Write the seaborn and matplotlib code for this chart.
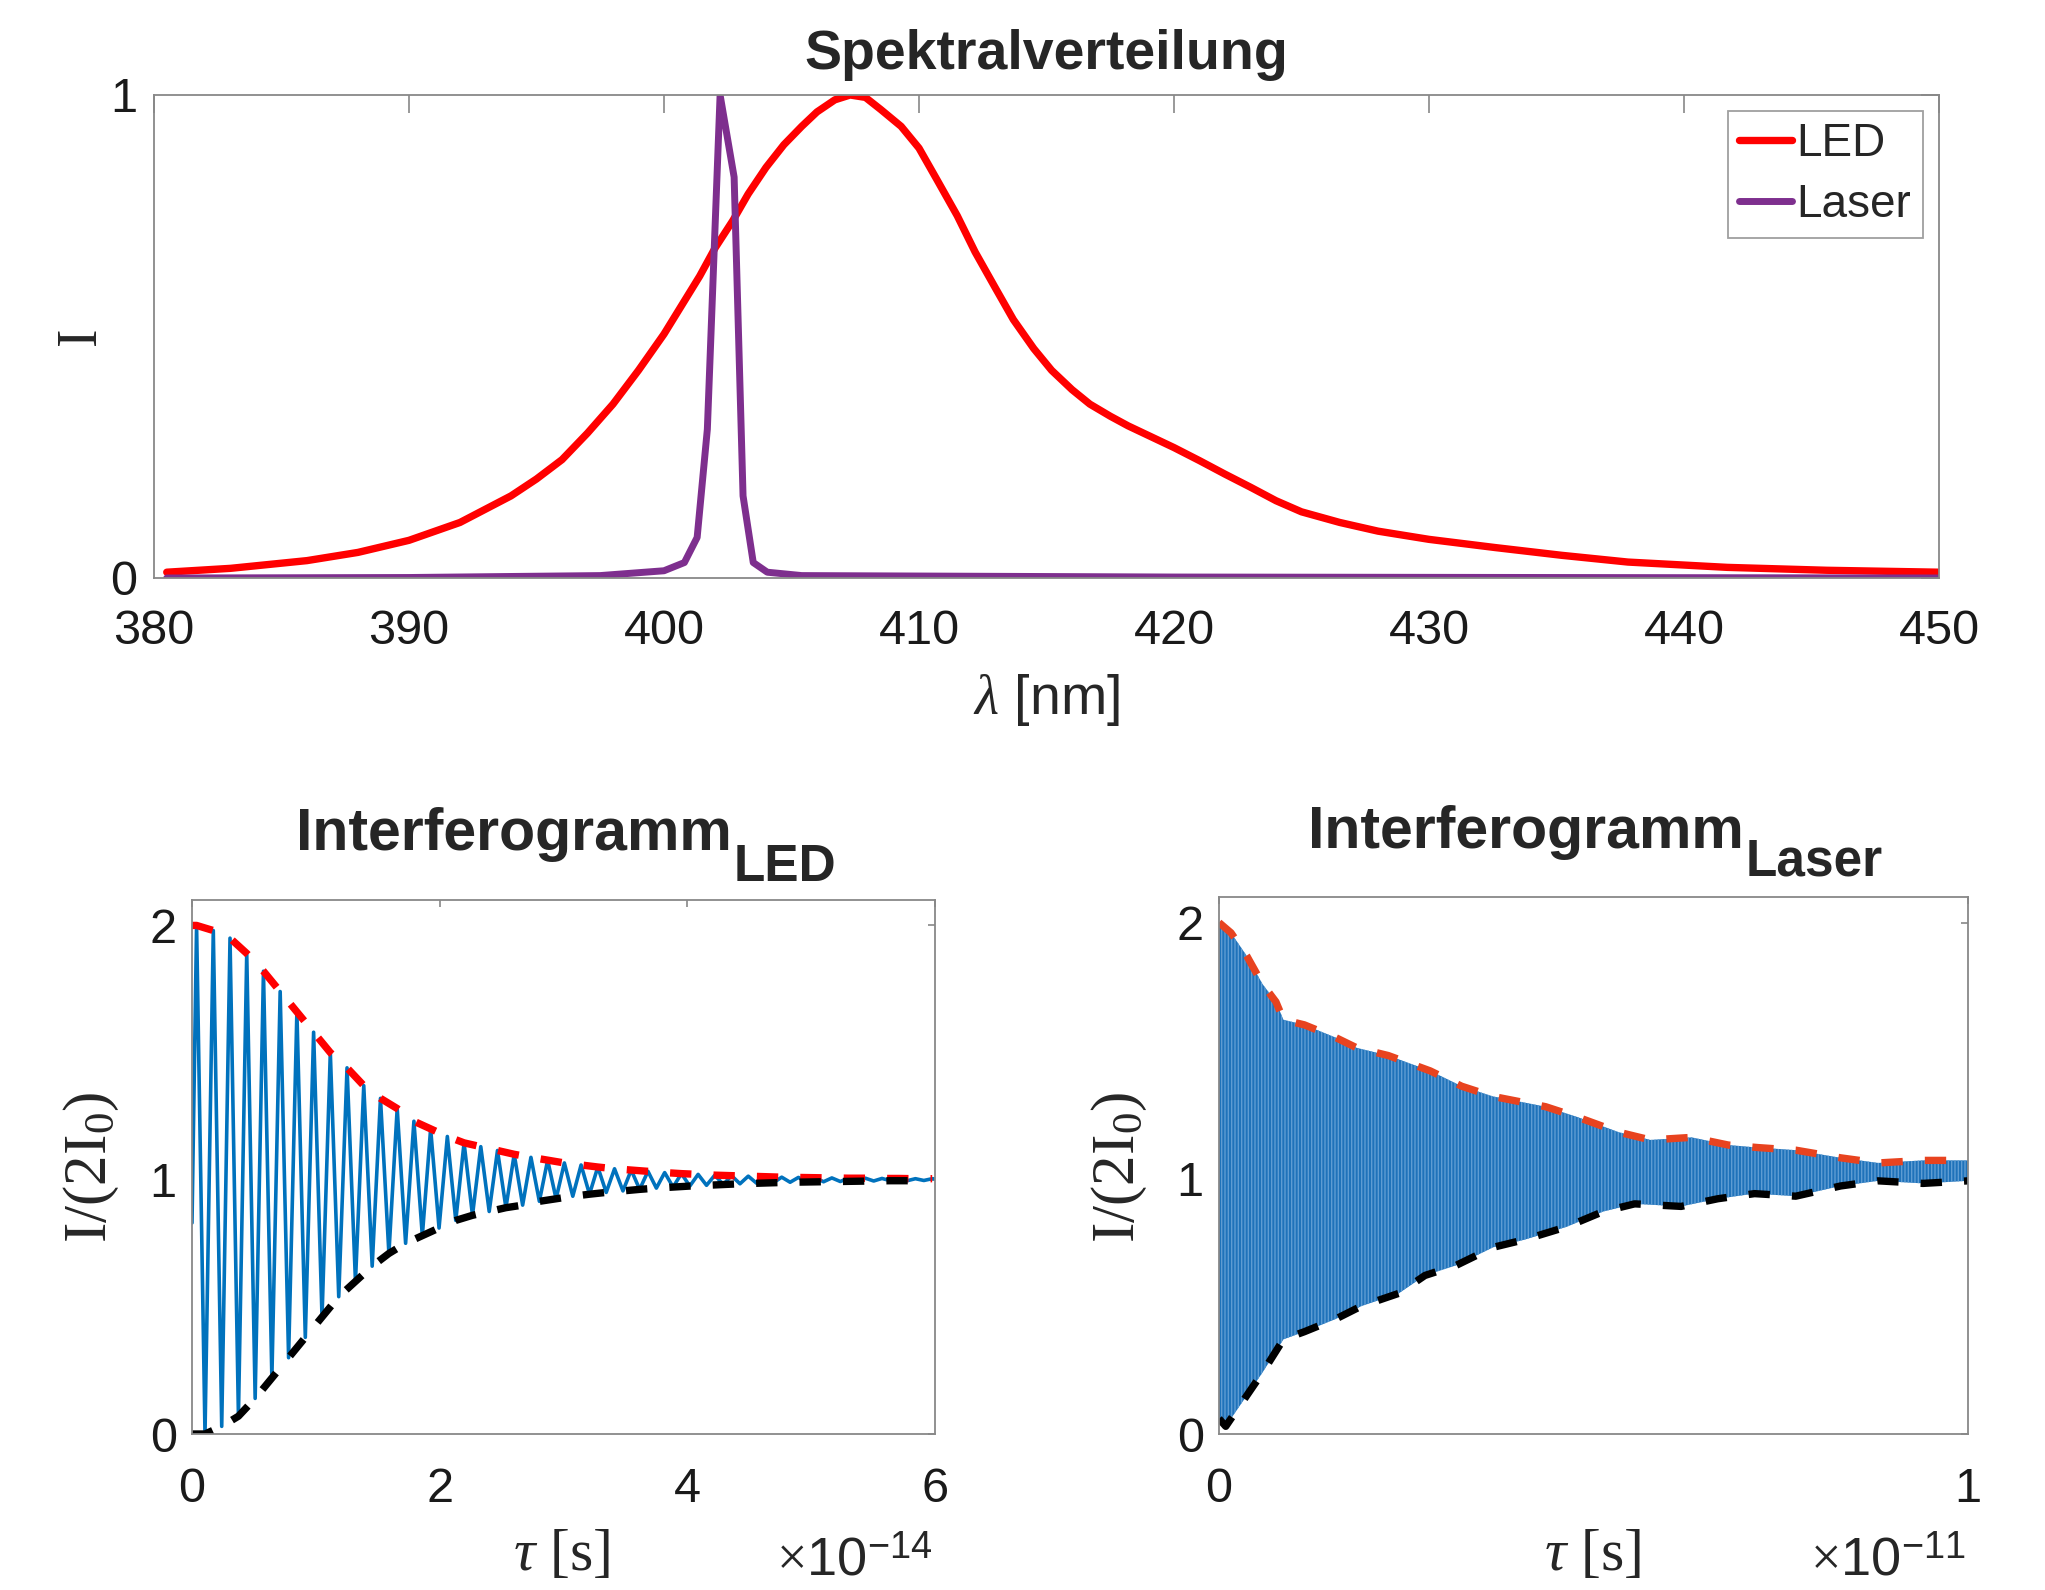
import numpy as np
import matplotlib
matplotlib.use("Agg")
import matplotlib.pyplot as plt
import seaborn as sns

sns.set_theme(style="white")
plt.rcParams["font.family"] = ["Liberation Sans", "DejaVu Sans"]
plt.rcParams["mathtext.fontset"] = "custom"
plt.rcParams["mathtext.rm"] = "Liberation Serif"
plt.rcParams["mathtext.it"] = "Liberation Serif:italic"
plt.rcParams["mathtext.sf"] = "Liberation Sans"
plt.rcParams["mathtext.bf"] = "Liberation Sans:bold"
plt.rcParams["hatch.linewidth"] = 1.0

# spectra
led_lam = [380.5, 383, 386, 388, 390, 392, 394, 395, 396, 397, 398, 399,
           400, 400.7, 401.4, 402, 402.7, 403.3, 404, 404.7, 405.4, 406, 406.7, 407.3,
           407.9, 408.5, 409.3, 410, 410.7, 411.5, 412.2, 413, 413.7, 414.5, 415.2, 416,
           416.7, 417.5, 418.2, 419, 420, 421, 422, 423, 424, 425, 426.5, 428, 430,
           432.6, 435.2, 437.8, 441.7, 445.6, 450]
led_int = [0.012, 0.02, 0.036, 0.053, 0.078, 0.115, 0.17, 0.205, 0.245, 0.3, 0.36, 0.43,
           0.505, 0.565, 0.625, 0.683, 0.74, 0.795, 0.85, 0.897, 0.935, 0.965, 0.99, 1.0,
           0.995, 0.97, 0.935, 0.89, 0.825, 0.75, 0.675, 0.6, 0.535, 0.475, 0.43, 0.39,
           0.36, 0.335, 0.315, 0.295, 0.27, 0.243, 0.215, 0.188, 0.16, 0.137, 0.115, 0.097, 0.08,
           0.063, 0.047, 0.033, 0.022, 0.016, 0.012]
laser_lam = [380.5, 390, 397.5, 400, 400.8, 401.3, 401.7, 402.2, 402.75, 403.1, 403.5,
             404.05, 405.4, 420, 450]
laser_int = [0.0, 0.001, 0.005, 0.015, 0.032, 0.084, 0.308, 1.0, 0.83, 0.17, 0.032,
             0.012, 0.005, 0.002, 0.0]

# LED interferogram: maxima and minima of the fringes (tau in 1e-14 s)
led_peak_t = [0.037, 0.172, 0.307, 0.442, 0.577, 0.712, 0.847, 0.982, 1.117, 1.252,
              1.387, 1.522, 1.657, 1.792, 1.927, 2.062, 2.197, 2.332, 2.467, 2.602,
              2.737, 2.872, 3.007, 3.142, 3.277, 3.412, 3.547, 3.682, 3.817, 3.952,
              4.087, 4.222, 4.357, 4.492, 4.627, 4.762, 4.897, 5.032, 5.167, 5.302,
              5.437, 5.572, 5.707, 5.842, 5.977]
led_peak_v = [2.0, 1.98, 1.95, 1.89, 1.82, 1.74, 1.66, 1.58, 1.5, 1.44,
              1.37, 1.32, 1.28, 1.23, 1.2, 1.17, 1.145, 1.13, 1.115, 1.1,
              1.088, 1.077, 1.066, 1.058, 1.05, 1.043, 1.038, 1.033, 1.028, 1.024,
              1.021, 1.018, 1.016, 1.014, 1.012, 1.01, 1.009, 1.008, 1.007, 1.006,
              1.006, 1.005, 1.005, 1.004, 1.004]
led_trough_t = [0.105, 0.24, 0.375, 0.51, 0.645, 0.78, 0.915, 1.05, 1.185, 1.32,
                1.455, 1.59, 1.725, 1.86, 1.995, 2.13, 2.265, 2.4, 2.535, 2.67,
                2.805, 2.94, 3.075, 3.21, 3.345, 3.48, 3.615, 3.75, 3.885, 4.02,
                4.155, 4.29, 4.425, 4.56, 4.695, 4.83, 4.965, 5.1, 5.235, 5.37,
                5.505, 5.64, 5.775, 5.91]
led_trough_v = [0.0, 0.03, 0.07, 0.14, 0.22, 0.3, 0.38, 0.46, 0.54, 0.6,
                0.66, 0.71, 0.75, 0.78, 0.81, 0.84, 0.86, 0.875, 0.89, 0.9,
                0.915, 0.925, 0.935, 0.943, 0.95, 0.956, 0.962, 0.967, 0.971, 0.975,
                0.978, 0.981, 0.984, 0.986, 0.988, 0.99, 0.991, 0.992, 0.993, 0.994,
                0.995, 0.996, 0.996, 0.997]
led_start = (0.0, 0.83)
led_end = (6.0, 1.003)

# Laser interferogram envelopes (tau in 1e-11 s)
las_up_t = [0, 0.016, 0.037, 0.058, 0.076, 0.086, 0.114, 0.156, 0.184, 0.226, 0.282, 0.324,
            0.366, 0.436, 0.478, 0.534, 0.576, 0.631, 0.68, 0.72, 0.77, 0.83, 0.88, 0.94, 1.0]
las_up_v = [2.0, 1.96, 1.87, 1.76, 1.69, 1.62, 1.6, 1.55, 1.51, 1.48, 1.42, 1.36,
            1.32, 1.28, 1.24, 1.18, 1.15, 1.16, 1.13, 1.12, 1.11, 1.08, 1.06, 1.07, 1.07]
las_lo_t = [0, 0.009, 0.03, 0.058, 0.086, 0.114, 0.156, 0.19, 0.24, 0.275, 0.317, 0.366,
            0.408, 0.464, 0.513, 0.555, 0.617, 0.666, 0.715, 0.77, 0.83, 0.88, 0.94, 1.0]
las_lo_v = [0.06, 0.03, 0.12, 0.24, 0.37, 0.4, 0.45, 0.5, 0.55, 0.62, 0.66, 0.73,
            0.76, 0.81, 0.87, 0.9, 0.89, 0.92, 0.94, 0.93, 0.97, 0.99, 0.98, 0.99]

W, H = 2045, 1590
fig = plt.figure(figsize=(W / 100, H / 100), dpi=100)

def box(l, t, r, b):
    return [l / W, 1 - b / H, (r - l) / W, (b - t) / H]

def style(ax, ticklen, xpad, ypad):
    for s in ax.spines.values():
        s.set_visible(True)
        s.set_color("#888888")
        s.set_linewidth(1.3)
    ax.tick_params(direction="in", length=ticklen, width=1.2, color="#888888",
                   labelcolor="#1a1a1a", labelsize=35, top=True, right=True)
    ax.tick_params(axis="x", pad=xpad)
    ax.tick_params(axis="y", pad=ypad)
    ax.set_xlabel("")
    ax.set_ylabel("")

def fx(x):
    return x / W

def fy(y):
    return 1 - y / H

dash = (0, (2.9, 3.0))

# --- spectral distribution
ax1 = fig.add_axes(box(154, 95, 1939, 578))
sns.lineplot(x=led_lam, y=led_int, ax=ax1, color="#FF0000", lw=5.3, label="LED",
             estimator=None, sort=False)
sns.lineplot(x=laser_lam, y=laser_int, ax=ax1, color="#7E2F8E", lw=5.0, label="Laser",
             estimator=None, sort=False)
ax1.set_xlim(380, 450)
ax1.set_ylim(0, 1)
ax1.set_xticks(range(380, 451, 10))
ax1.set_yticks([0, 1])
style(ax1, 13, 22, 12)
leg = ax1.legend(loc="upper right", fontsize=33, frameon=True, fancybox=False,
                 handlelength=1.15, handletextpad=0.1, labelspacing=0.36,
                 borderpad=0.25, borderaxespad=0.35)
leg.get_frame().set_edgecolor("#888888")
leg.get_frame().set_linewidth(1.3)
fig.text(fx(1046), fy(55), "Spektralverteilung", ha="center", va="center",
         fontsize=40, fontweight="bold")
fig.text(fx(81), fy(336), "I", ha="center", va="center", rotation=90,
         fontsize=40, family="Liberation Serif")
fig.text(fx(1046), fy(700), r"$\lambda$ [nm]", ha="center", va="center", fontsize=40)

# --- LED interferogram
pts = sorted(zip(led_peak_t + led_trough_t, led_peak_v + led_trough_v))
blue_t = [led_start[0]] + [p[0] for p in pts] + [led_end[0]]
blue_v = [led_start[1]] + [p[1] for p in pts] + [led_end[1]]

ax2 = fig.add_axes(box(192, 900, 935, 1434))
sns.lineplot(x=blue_t, y=blue_v, ax=ax2, color="#0072BD", lw=2.6,
             estimator=None, sort=False)
sns.lineplot(x=[0.0] + led_peak_t, y=[2.0] + led_peak_v, ax=ax2, color="#FF0000",
             lw=5.3, ls=dash, estimator=None, sort=False)
sns.lineplot(x=[0.0] + led_trough_t, y=[0.0] + led_trough_v, ax=ax2, color="#000000",
             lw=5.3, ls=dash, estimator=None, sort=False)
ax2.set_xlim(0, 6)
ax2.set_ylim(0, 2.1)
ax2.set_xticks([0, 2, 4, 6])
ax2.set_yticks([0, 1, 2])
style(ax2, 5, 24, 11)

# --- Laser interferogram
ax3 = fig.add_axes(box(1219, 897, 1968, 1434))
ax3.fill(las_up_t + las_lo_t[::-1], las_up_v + las_lo_v[::-1], facecolor="#1F72BA",
         edgecolor="#5E9CD3", linewidth=0, hatch="|||||")
sns.lineplot(x=las_up_t, y=las_up_v, ax=ax3, color="#E8431F", lw=5.3,
             ls=dash, estimator=None, sort=False)
sns.lineplot(x=las_lo_t, y=las_lo_v, ax=ax3, color="#000000", lw=5.3,
             ls=dash, estimator=None, sort=False)
ax3.set_xlim(0, 1)
ax3.set_ylim(0, 2.1)
ax3.set_xticks([0, 1])
ax3.set_yticks([0, 1, 2])
style(ax3, 5, 24, 11)

# titles with subscripts
for x0, yb, ys, sub in [(296, 850, 881, "LED"), (1308, 848, 876, "Laser")]:
    t = fig.text(fx(x0), fy(yb), "Interferogramm", ha="left", va="baseline",
                 fontsize=42.5, fontweight="bold")
    plt.annotate(sub, xy=(1.0, fy(ys)), xycoords=(t, "figure fraction"),
                 xytext=(1, 0), textcoords="offset points", ha="left", va="baseline",
                 fontsize=37, fontweight="bold", annotation_clip=False)

# axis labels of the interferograms
for xc, xr, exp in [(561, 932, "-14"), (1592, 1966, "-11")]:
    fig.text(fx(xc), fy(1556), r"$\tau$ [s]", ha="center", va="center",
             fontsize=43, family="Liberation Serif")
    fig.text(fx(xr), fy(1575), r"$\times$10$^{\mathsf{%s}}$" % exp, ha="right",
             va="baseline", fontsize=39)
for xc in [91, 1119]:
    fig.text(fx(xc), fy(1167), r"I/(2I$_\mathrm{0}$)", ha="center", va="center",
             rotation=90, fontsize=44, family="Liberation Serif")

fig.savefig("out.png", dpi=100, facecolor="white")
